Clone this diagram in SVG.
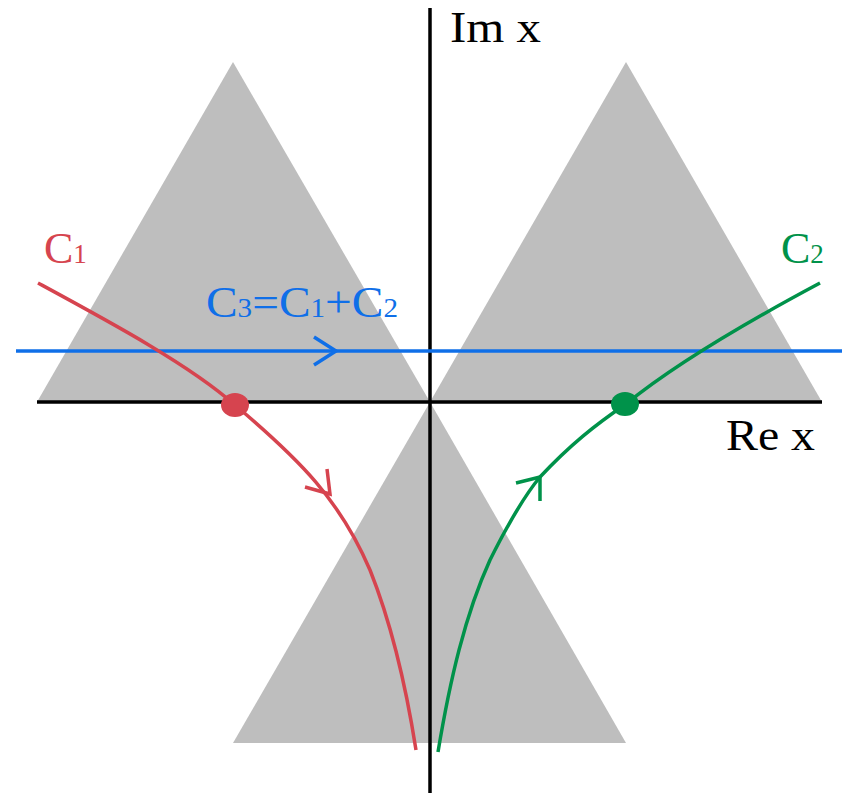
<svg xmlns="http://www.w3.org/2000/svg" width="842" height="793" viewBox="0 0 842 793">
<style>
.tri{fill:#bebebe}
.ax{stroke:#000;stroke-width:3.5;fill:none}
.lbl{font-family:"Liberation Serif","DejaVu Serif",serif;font-size:44px}
.sub{font-size:27px}
.red{stroke:#d6444f;stroke-width:3.5;fill:none}
.grn{stroke:#00924a;stroke-width:3.5;fill:none}
.blu{stroke:#0f6fe8;stroke-width:3.5;fill:none}
</style>
<rect width="842" height="793" fill="#fff"/>
<g id="regions">
<polygon class="tri" points="233,62 37,402 430,402"/>
<polygon class="tri" points="626,62 430,402 822,402"/>
<polygon class="tri" points="430,402 233,743 626,743"/>
</g>
<g id="axes">
<line class="ax" x1="430" y1="8" x2="430" y2="793"/>
<line class="ax" x1="37" y1="402" x2="822" y2="402"/>
<text class="lbl" x="450" y="42" textLength="91" lengthAdjust="spacingAndGlyphs">Im x</text>
<text class="lbl" x="726" y="450" textLength="89" lengthAdjust="spacingAndGlyphs">Re x</text>
</g>
<g id="connectors">
<g id="C3">
<line class="blu" x1="16" y1="351" x2="842" y2="351"/>
<polyline class="blu" points="314,337 336,351 314,365"/>
<text class="lbl" x="206" y="317" fill="#0f6fe8" textLength="192" lengthAdjust="spacingAndGlyphs">C<tspan class="sub">3</tspan>=C<tspan class="sub">1</tspan>+C<tspan class="sub">2</tspan></text>
</g>
<g id="C1">
<path class="red" d="M38,283 C110,322 190,365 235,405 C300,460 340,500 370,570 C390,620 405,680 416,750"/>
<polyline class="red" points="305,487 330,494 327,469"/>
<ellipse cx="235" cy="405" rx="14" ry="12" fill="#d6444f"/>
<text class="lbl" x="44" y="263" fill="#d6444f">C<tspan class="sub">1</tspan></text>
</g>
<g id="C2">
<path class="grn" d="M438,752 C450,680 465,615 490,560 C510,520 525,495 540,477 C570,445 595,425 626,404 C680,360 760,315 820,283"/>
<polyline class="grn" points="516,483 540,477 540,501"/>
<ellipse cx="625" cy="404" rx="14" ry="12" fill="#00924a"/>
<text class="lbl" x="781" y="263" fill="#00924a">C<tspan class="sub">2</tspan></text>
</g>
</g>
</svg>
